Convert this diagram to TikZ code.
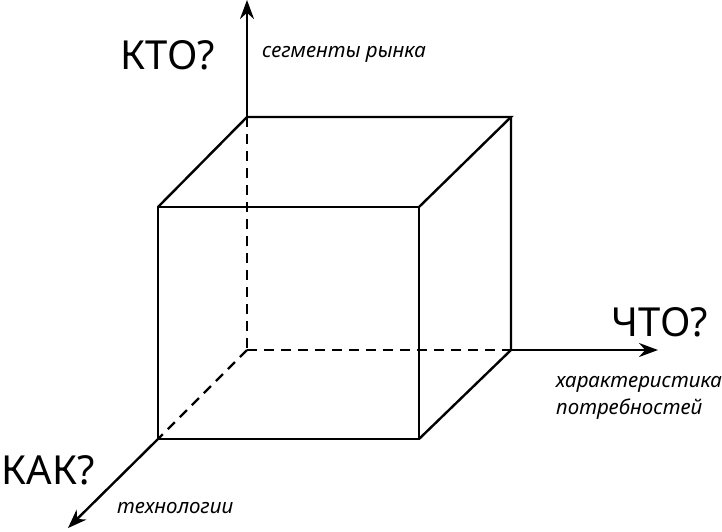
\documentclass[tikz,border=0pt]{standalone}
\usepackage{fontspec}
\setmainfont{Noto Sans}
\usetikzlibrary{arrows.meta}

\begin{document}
\begin{tikzpicture}[x=1pt,y=-1pt]
    % Styles for the edges, axes and labels
    \tikzset{
        edge/.style={line width=2.4pt},
        hidden/.style={line width=2.4pt, dash pattern=on 10pt off 7pt},
        axis/.style={line width=2.4pt, -{Stealth[length=19pt,width=14pt]}},
        question/.style={font=\fontsize{40}{44}\selectfont, inner sep=0pt},
        caption/.style={font=\fontsize{20.5}{27}\selectfont\itshape, inner sep=0pt, anchor=west, align=left}
    }

    % Fix the page size
    \useasboundingbox (0,0) rectangle (722,531);

    % Back face of the cube
    \coordinate (O) at (247,350); % origin of the axes
    \coordinate (B1) at (247,117);
    \coordinate (B2) at (511,117);
    \coordinate (B3) at (511,350);

    % Front face of the cube
    \coordinate (F1) at (158,207);
    \coordinate (F2) at (419,207);
    \coordinate (F3) at (419,439);
    \coordinate (F4) at (158,439);

    % Ends of the axes
    \coordinate (yEnd) at (247,0);
    \coordinate (xEnd) at (658,350);
    \coordinate (zEnd) at (68,528);

    % Hidden edges
    \draw[hidden] (B1) -- (O);
    \draw[hidden] (O) -- (B3);
    \draw[hidden] (O) -- (F4);

    % Visible edges
    \draw[edge] (F1) -- (F2) -- (F3) -- (F4) -- cycle;
    \draw[edge] (F1) -- (B1) -- (B2) -- (F2);
    \draw[edge] (B2) -- (B3) -- (F3);

    % Axes
    \draw[axis] (B1) -- (yEnd);
    \draw[axis] (B3) -- (xEnd);
    \draw[axis] (F4) -- (zEnd);

    % Labels
    \node[question] (who) at (168,55) {КТО?};
    \node[caption] (whoText) at (262,54) {сегменты рынка};
    \node[question] (what) at (660,322) {ЧТО?};
    \node[caption] (whatText) at (556,398) {характеристика\\потребностей};
    \node[question] (how) at (48,470) {КАК?};
    \node[caption] (howText) at (117,508) {технологии};

\end{tikzpicture}
\end{document}
